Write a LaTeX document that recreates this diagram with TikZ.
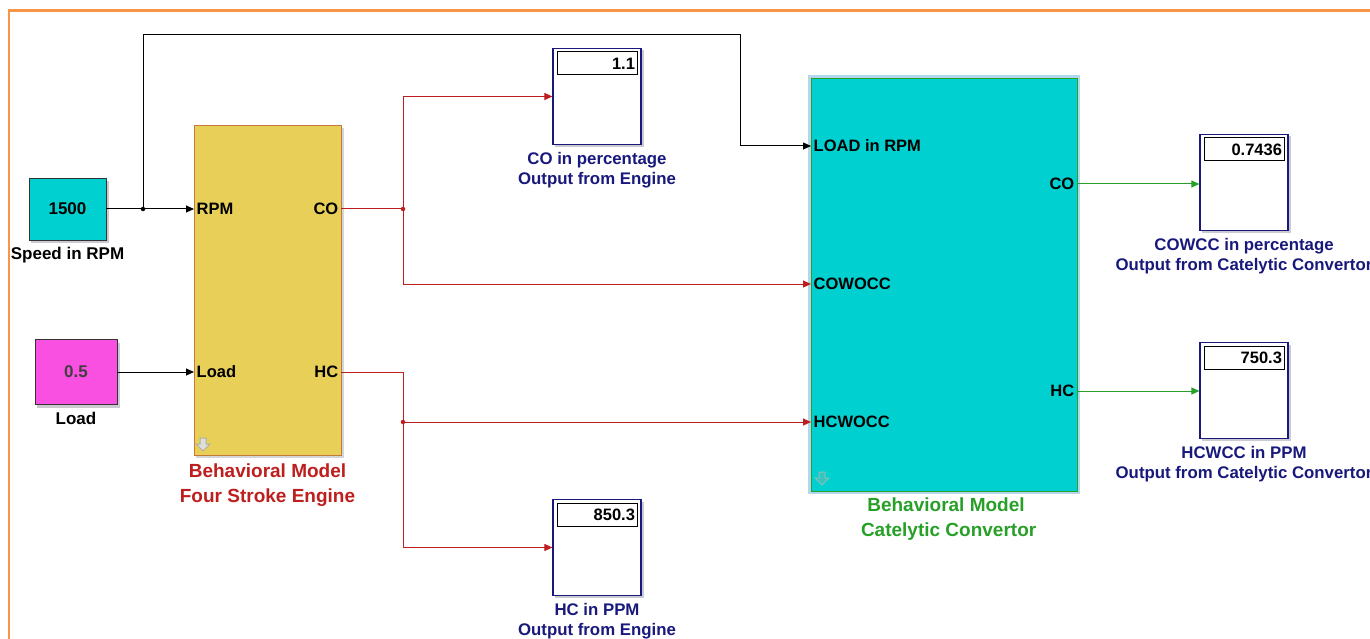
\documentclass[tikz,border=0pt]{standalone}
\usepackage{fontspec}
\setmainfont{Liberation Sans}
\usetikzlibrary{arrows.meta,positioning}
\definecolor{frameorange}{RGB}{247,150,70}
\definecolor{cyanfill}{RGB}{0,208,208}
\definecolor{magfill}{RGB}{250,80,225}
\definecolor{yellowfill}{RGB}{232,208,88}
\definecolor{redline}{RGB}{190,30,30}
\definecolor{greenline}{RGB}{40,160,40}
\definecolor{navytext}{RGB}{25,25,125}
\definecolor{halo}{RGB}{180,215,240}
\definecolor{shadowgray}{RGB}{150,150,160}
\definecolor{icongray}{RGB}{175,175,160}
\tikzset{
  blk/.style={draw=black!80, line width=0.9pt, minimum width=#1, inner sep=0pt, font=\bfseries\fontsize{17}{19}\selectfont},
  disp/.style={draw=navytext, line width=1.2pt, fill=white, minimum width=88pt, minimum height=96pt, inner sep=0pt},
  valbox/.style={draw=black, line width=1pt, fill=white, minimum width=80pt, minimum height=23pt, inner sep=2pt, text width=76pt, align=right, font=\bfseries\fontsize{16.5}{18}\selectfont},
  port/.style={font=\bfseries\fontsize{16.5}{18}\selectfont, inner sep=2.5pt},
  blabel/.style={font=\bfseries\fontsize{16.8}{20}\selectfont, text=navytext, align=center},
  lab/.style={font=\bfseries\fontsize{17}{19}\selectfont, align=center},
  biglabel/.style={font=\bfseries\fontsize{19}{25}\selectfont, align=center},
  wire/.style={line width=1pt},
  arr/.style={wire, -{Triangle[length=8pt,width=7pt]}},
  dot/.style={circle, fill, inner sep=0pt, minimum size=4.5pt},
}
\begin{document}
\begin{tikzpicture}[x=1pt,y=-1pt]
\useasboundingbox (0,0) rectangle (1370,639);
\fill[white] (0,0) rectangle (1370,639);
\draw[frameorange, line width=2.5pt] (9,640) -- (9,10.5) -- (1371,10.5);

% source blocks
\fill[shadowgray!50] (31,181) rectangle (109,243);
\node[blk=77pt, minimum height=62pt, fill=cyanfill] (speed) at (67.5,209) {1500};
\node[lab, below=3pt of speed] (speedlab) {Speed in RPM};
\fill[shadowgray!50] (37,343) rectangle (120,408);
\node[blk=82pt, minimum height=65pt, fill=magfill, text=black!75] (load) at (76,372) {0.5};
\node[lab, below=4pt of load] (loadlab) {Load};

% engine block
\fill[shadowgray!40] (196,128) rectangle (344,458);
\node[draw=frameorange!80!black, line width=1pt, fill=yellowfill, minimum width=147pt, minimum height=329pt, inner sep=0pt] (eng) at (267.5,290.5) {};
\coordinate (engRPM) at (194,209);
\coordinate (engLoad) at (194,372);
\coordinate (engCO) at (341,209);
\coordinate (engHC) at (341,372);
\node[port, anchor=west] (pRPM) at (engRPM) {RPM};
\node[port, anchor=west] (pLoad) at (engLoad) {Load};
\node[port, anchor=east] (pCO) at (engCO) {CO};
\node[port, anchor=east] (pHC) at (engHC) {HC};
\draw[icongray, line width=1pt, fill=icongray!40] (200,438) -- (206,438) -- (206,444) -- (210,444) -- (203,451) -- (196,444) -- (200,444) -- cycle;
\node[biglabel, text=redline, below=5pt of eng] (englab) {Behavioral Model\\Four Stroke Engine};

% converter block
\fill[halo] (808,75) rectangle (1080,494);
\node[draw=greenline, line width=1pt, fill=cyanfill, minimum width=266pt, minimum height=412pt, inner sep=0pt] (cv) at (944,285) {};
\coordinate (cvLOAD) at (811,146);
\coordinate (cvCOWOCC) at (811,284);
\coordinate (cvHCWOCC) at (811,422);
\coordinate (cvCO) at (1077,184);
\coordinate (cvHC) at (1077,391);
\node[port, anchor=west] (qLOAD) at (cvLOAD) {LOAD in RPM};
\node[port, anchor=west] (qCOWOCC) at (cvCOWOCC) {COWOCC};
\node[port, anchor=west] (qHCWOCC) at (cvHCWOCC) {HCWOCC};
\node[port, anchor=east] (qCO) at (cvCO) {CO};
\node[port, anchor=east] (qHC) at (cvHC) {HC};
\draw[icongray!80!cyan, line width=1pt, fill=icongray!30!cyanfill] (819,472) -- (825,472) -- (825,478) -- (829,478) -- (822,485) -- (815,478) -- (819,478) -- cycle;
\node[biglabel, text=greenline, below=3pt of cv, xshift=2pt] (cvlab) {Behavioral Model\\\ Catelytic Convertor};

% displays
\foreach \n/\cx/\cy/\v in {dco/597/96.5/1.1, dhc/597/547.5/850.3, dcowcc/1244/182.5/0.7436, dhcwcc/1244/390.5/750.3}{
  \fill[shadowgray!50] (\cx-42,\cy-46) rectangle (\cx+46.5,\cy+50.5);
  \node[disp] (\n) at (\cx,\cy) {};
  \node[valbox] (\n v) at (\cx,\cy-33) {\v};
}
\node[blabel, below=4pt of dco] (dcolab) {CO in percentage\\Output from Engine};
\node[blabel, below=4pt of dhc] (dhclab) {HC in PPM\\Output from Engine};
\node[blabel, below=4pt of dcowcc] (dcowcclab) {COWCC in percentage\\Output from Catelytic Convertor};
\node[blabel, below=4pt of dhcwcc] (dhcwcclab) {HCWCC in PPM\\Output from Catelytic Convertor};

% junctions
\node[dot] (j1) at (143,209) {};
\node[dot, redline] (j2) at (403,209) {};
\node[dot, redline] (j3) at (403,422) {};
\coordinate (c1) at (143,35);
\coordinate (c2) at (740,35);
\coordinate (c3) at (740,146);

% black wires
\draw[wire] (speed.east) -- (j1);
\draw[arr] (j1) -- (engRPM);
\draw[wire] (j1) -- (c1) -- (c2) -- (c3);
\draw[arr] (c3) -- (cvLOAD);
\draw[arr] (load.east) -- (engLoad);

% red wires
\draw[wire, redline] (engCO) -- (j2);
\draw[arr, redline] (j2) |- (dco.west);
\draw[arr, redline] (j2) |- (cvCOWOCC);
\draw[wire, redline] (engHC) -| (j3);
\draw[arr, redline] (j3) -- (cvHCWOCC);
\draw[arr, redline] (j3) |- (dhc.west);

% green wires
\draw[arr, greenline] (cvCO) -- (cvCO -| dcowcc.west);
\draw[arr, greenline] (cvHC) -- (cvHC -| dhcwcc.west);
\end{tikzpicture}
\end{document}
